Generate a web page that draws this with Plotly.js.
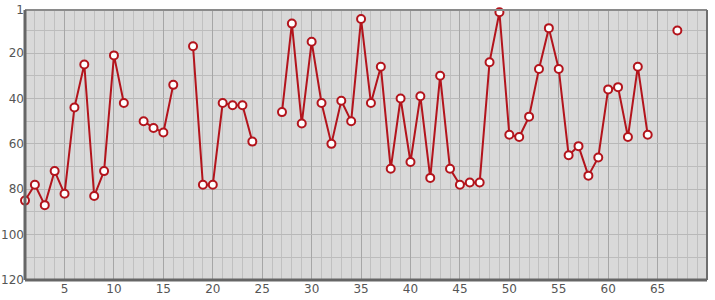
<!DOCTYPE html>
<html>
<head>
<meta charset="utf-8">
<script src="https://cdn.plot.ly/plotly-3.0.1.min.js"></script>
<style>html,body{margin:0;padding:0;background:#fff;}#chart{width:715px;height:300px;}</style>
</head>
<body>
<div id="chart"></div>
<script>
const xValues = [1,2,3,4,5,6,7,8,9,10,11,12,13,14,15,16,17,18,19,20,21,22,23,24,25,26,27,28,29,30,31,32,33,34,35,36,37,38,39,40,41,42,43,44,45,46,47,48,49,50,51,52,53,54,55,56,57,58,59,60,61,62,63,64,65,66,67];
const rankValues = [85,78,87,72,82,44,25,83,72,21,42,null,50,53,55,34,null,17,78,78,42,43,43,59,null,null,46,7,51,15,42,60,41,50,5,42,26,71,40,68,39,75,30,71,78,77,77,24,2,56,57,48,27,9,27,65,61,74,66,36,35,57,26,56,null,null,10];
const yTickVals = [1,20,40,60,80,100,120];
const yTickText = ['1','20','40','60','80','100','120'];
const xTickVals = [5,10,15,20,25,30,35,40,45,50,55,60,65];

const trace = {
  x: xValues, y: rankValues, type: 'scatter', mode: 'lines+markers',
  connectgaps: false, cliponaxis: false,
  line: {color: '#b3141c', width: 2},
  marker: {symbol: 'circle', size: 8, color: '#ffffff', line: {color: '#b3141c', width: 2}},
  hoverinfo: 'x+y'
};

const layout = {
  width: 715, height: 300,
  margin: {l: 25, r: 8, t: 10, b: 20},
  paper_bgcolor: '#ffffff', plot_bgcolor: '#d9d9d9',
  showlegend: false,
  font: {family: 'DejaVu Sans, sans-serif', size: 11, color: '#444'},
  xaxis: {
    range: [1, 70], tickmode: 'array', tickvals: xTickVals,
    showgrid: true, gridcolor: '#a6a6a6', gridwidth: 1,
    minor: {tickmode: 'linear', tick0: 0, dtick: 1, showgrid: true, gridcolor: '#c0c0c0', gridwidth: 1, ticklen: 0},
    zeroline: false, showline: false, ticks: '', ticklen: 0,
    tickfont: {size: 12, color: '#555'}
  },
  yaxis: {
    range: [120, 1], tickmode: 'array', tickvals: yTickVals, ticktext: yTickText,
    showgrid: true, gridcolor: '#b8b8b8', gridwidth: 1,
    minor: {tickmode: 'linear', tick0: 0, dtick: 10, showgrid: true, gridcolor: '#bcbcbc', gridwidth: 1, ticklen: 0},
    zeroline: false, showline: false, ticks: '', ticklen: 0,
    tickfont: {size: 12, color: '#555'}
  },
  shapes: [
    {type: 'line', xref: 'paper', yref: 'paper', x0: 0, x1: 1, y0: 1, y1: 1, line: {color: '#8a8a8a', width: 2}},
    {type: 'line', xref: 'paper', yref: 'paper', x0: 1, x1: 1, y0: 0, y1: 1, line: {color: '#6e6e6e', width: 2}},
    {type: 'line', xref: 'paper', yref: 'paper', x0: 0, x1: 1, y0: 0, y1: 0, line: {color: '#666666', width: 3}},
    {type: 'line', xref: 'paper', yref: 'paper', x0: 0, x1: 0, y0: 0, y1: 1, line: {color: '#666666', width: 3}}
  ]
};

Plotly.newPlot('chart', [trace], layout, {displayModeBar: false, staticPlot: true});
</script>
</body>
</html>
